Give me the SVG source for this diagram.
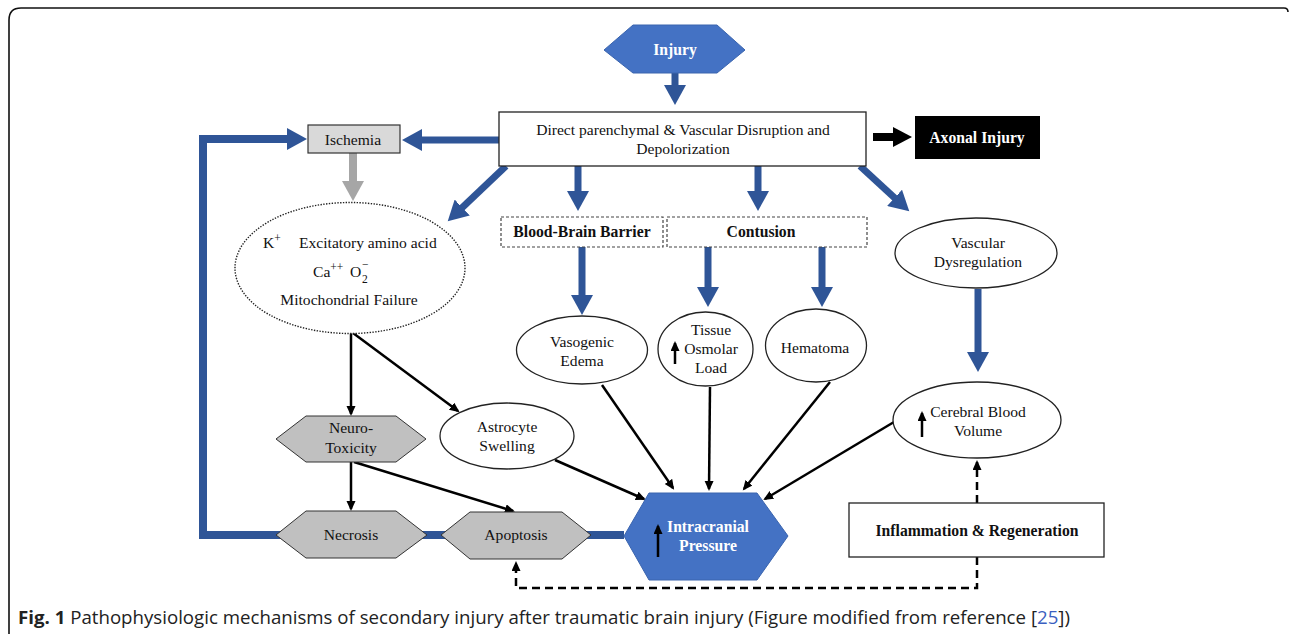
<svg xmlns="http://www.w3.org/2000/svg" width="1290" height="634" viewBox="0 0 1290 634">
<style>
.t{font-family:"Liberation Serif","Times New Roman",serif;font-size:15.6px;fill:#111;text-anchor:middle}
.s{text-anchor:start}
.sm{font-size:11.5px}
.b{font-weight:bold;font-size:15.7px}
.w{fill:#fff}
.bl{stroke:#2F5597;stroke-width:7;fill:none}
.gr{stroke:#A6A6A6;stroke-width:8;fill:none}
.k{stroke:#000;stroke-width:2.5;fill:none}
.kd{stroke:#000;stroke-width:2.5;fill:none;stroke-dasharray:8 5}
.node{fill:#fff;stroke:#222;stroke-width:1.3}
.hexg{fill:#C0C0C0;stroke:#333;stroke-width:1}
.hexb{fill:#4472C4;stroke:#3A64AE;stroke-width:1}
.dash{fill:#fff;stroke:#444;stroke-width:1.2;stroke-dasharray:3 2}
.cap{font-family:"Open Sans","Noto Sans",sans-serif;font-size:18px;fill:#222}
</style>
<defs>
<marker id="hb" markerUnits="userSpaceOnUse" markerWidth="22" markerHeight="22" refX="1" refY="11" orient="auto"><path d="M0,0 L20,11 L0,22 z" fill="#2F5597"/></marker>
<marker id="hg" markerUnits="userSpaceOnUse" markerWidth="22" markerHeight="22" refX="1" refY="11" orient="auto"><path d="M0,0 L20,11 L0,22 z" fill="#A6A6A6"/></marker>
<marker id="hk" markerUnits="userSpaceOnUse" markerWidth="20" markerHeight="20" refX="1" refY="10" orient="auto"><path d="M0,0 L19,10 L0,20 z" fill="#000"/></marker>
<marker id="ha" markerUnits="userSpaceOnUse" markerWidth="12" markerHeight="10" refX="8" refY="4.5" orient="auto"><path d="M0,0 L10,4.5 L0,9 z" fill="#000"/></marker>
</defs>

<path d="M9,634 L9,20 Q9,8 21,8 L1284,8 Q1288,8 1288,12" fill="none" stroke="#111" stroke-width="1.6"/>

<g id="connectors">
<line class="bl" x1="675" y1="72" x2="675" y2="86" marker-end="url(#hb)"/>
<line class="bl" x1="499" y1="140" x2="421" y2="140" marker-end="url(#hb)"/>
<polyline class="bl" style="stroke-width:8" points="624,535 203,535 203,139 288,139" marker-end="url(#hb)"/>
<line class="gr" x1="353" y1="153" x2="353" y2="182" marker-end="url(#hg)"/>
<line class="bl" x1="506" y1="166" x2="461.5" y2="208.2" marker-end="url(#hb)"/>
<line class="bl" x1="578" y1="166" x2="578" y2="192" marker-end="url(#hb)"/>
<line class="bl" x1="758" y1="166" x2="758" y2="192" marker-end="url(#hb)"/>
<line class="bl" x1="860" y1="166" x2="895.3" y2="198.5" marker-end="url(#hb)"/>
<line class="bl" x1="582" y1="247" x2="582" y2="296" marker-end="url(#hb)"/>
<line class="bl" x1="708" y1="247" x2="708" y2="288" marker-end="url(#hb)"/>
<line class="bl" x1="822" y1="247" x2="822" y2="288" marker-end="url(#hb)"/>
<line class="bl" x1="978" y1="289" x2="978" y2="353" marker-end="url(#hb)"/>
<line x1="873" y1="137" x2="894" y2="137" stroke="#000" stroke-width="8" marker-end="url(#hk)"/>
<line class="k" x1="351" y1="333" x2="351" y2="414" marker-end="url(#ha)"/>
<line class="k" x1="353" y1="333" x2="458" y2="411" marker-end="url(#ha)"/>
<line class="k" x1="351" y1="462" x2="351" y2="509" marker-end="url(#ha)"/>
<line class="k" x1="354" y1="462" x2="513" y2="511" marker-end="url(#ha)"/>
<line class="k" x1="555" y1="460" x2="644" y2="499" marker-end="url(#ha)"/>
<line class="k" x1="602" y1="385" x2="673" y2="488" marker-end="url(#ha)"/>
<line class="k" x1="710" y1="387" x2="709" y2="489" marker-end="url(#ha)"/>
<line class="k" x1="830" y1="382" x2="744" y2="489" marker-end="url(#ha)"/>
<line class="k" x1="894" y1="422" x2="765" y2="499" marker-end="url(#ha)"/>
<line class="kd" x1="977" y1="503" x2="977" y2="462" marker-end="url(#ha)"/>
<polyline class="kd" points="977,557 977,588 516,588 516,563" marker-end="url(#ha)"/>
</g>

<g id="injury">
<polygon class="hexb" points="604,50 633,25 717,25 745,50 717,73 633,73"/>
<text class="t b w" x="675" y="55">Injury</text>
</g>

<g id="direct">
<rect class="node" x="499" y="112" width="367" height="54"/>
<text class="t" x="683" y="135">Direct parenchymal &amp; Vascular Disruption and</text>
<text class="t" x="683" y="154">Depolorization</text>
</g>

<g id="axonal">
<rect x="915" y="116" width="125" height="43" fill="#000"/>
<text class="t b w" x="977" y="143">Axonal Injury</text>
</g>

<g id="ischemia">
<rect x="308" y="125" width="92" height="28" fill="#D9D9D9" stroke="#333" stroke-width="1.2"/>
<text class="t" x="353" y="145">Ischemia</text>
</g>

<g id="excitatory">
<ellipse cx="350" cy="268" rx="115" ry="65.5" fill="#fff" stroke="#222" stroke-width="1.4" stroke-dasharray="1.4 1.4"/>
<text class="t s" x="263" y="248">K<tspan class="sm" dy="-6">+</tspan></text>
<text class="t s" x="299" y="248">Excitatory amino acid</text>
<text class="t s" x="313" y="277">Ca<tspan class="sm" dy="-6">++</tspan></text>
<text class="t s" x="350" y="277">O</text>
<text class="t s sm" x="362" y="268">−</text>
<text class="t s sm" x="362" y="283">2</text>
<text class="t" x="349" y="305">Mitochondrial Failure</text>
</g>

<g id="bbb">
<rect class="dash" x="501" y="217" width="162" height="30"/>
<text class="t b" x="582" y="237">Blood-Brain Barrier</text>
</g>

<g id="contusion">
<rect class="dash" x="667" y="217" width="200" height="30"/>
<text class="t b" x="761" y="237">Contusion</text>
</g>

<g id="vascular">
<ellipse class="node" cx="976" cy="253" rx="81" ry="35"/>
<text class="t" x="978" y="248">Vascular</text>
<text class="t" x="978" y="267">Dysregulation</text>
</g>

<g id="vasogenic">
<ellipse class="node" cx="582" cy="350" rx="65.5" ry="34"/>
<text class="t" x="582" y="347">Vasogenic</text>
<text class="t" x="582" y="366">Edema</text>
</g>

<g id="tissue">
<ellipse class="node" cx="705.5" cy="349" rx="47.5" ry="37"/>
<text class="t" x="711" y="335">Tissue</text>
<text class="t" x="711" y="354">Osmolar</text>
<text class="t" x="711" y="373">Load</text>
<line x1="675" y1="364" x2="675" y2="343" stroke="#000" stroke-width="2.5" marker-end="url(#ha)"/>
</g>

<g id="hematoma">
<ellipse class="node" cx="816" cy="345.5" rx="50.5" ry="36.5"/>
<text class="t" x="815" y="353">Hematoma</text>
</g>

<g id="cbv">
<ellipse class="node" cx="977" cy="420" rx="84" ry="38"/>
<text class="t" x="978" y="417">Cerebral Blood</text>
<text class="t" x="978" y="436">Volume</text>
<line x1="922" y1="437" x2="922" y2="413" stroke="#000" stroke-width="2.5" marker-end="url(#ha)"/>
</g>

<g id="astrocyte">
<ellipse class="node" cx="507" cy="436" rx="67" ry="33"/>
<text class="t" x="507" y="432">Astrocyte</text>
<text class="t" x="507" y="451">Swelling</text>
</g>

<g id="neurotoxicity">
<polygon class="hexg" points="276,439 306,416 396,416 426,439 396,462 306,462"/>
<text class="t" x="351" y="433">Neuro-</text>
<text class="t" x="351" y="453">Toxicity</text>
</g>

<g id="necrosis">
<polygon class="hexg" points="276,535 306,511 396,511 427,535 396,558 306,558"/>
<text class="t" x="351" y="540">Necrosis</text>
</g>

<g id="apoptosis">
<polygon class="hexg" points="441,535 470,512 562,512 591,535 562,559 470,559"/>
<text class="t" x="516" y="540">Apoptosis</text>
</g>

<g id="icp">
<polygon class="hexb" points="624,536 649,493 757,493 788,536 757,580 649,580"/>
<text class="t b w" x="708" y="532">Intracranial</text>
<text class="t b w" x="708" y="551">Pressure</text>
<line x1="658" y1="557" x2="658" y2="526" stroke="#000" stroke-width="2.5" marker-end="url(#ha)"/>
</g>

<g id="inflammation">
<rect class="node" x="849" y="503" width="255" height="54"/>
<text class="t b" x="977" y="536">Inflammation &amp; Regeneration</text>
</g>

<text class="cap" x="18" y="624" textLength="1052" lengthAdjust="spacingAndGlyphs"><tspan font-weight="bold">Fig. 1</tspan> Pathophysiologic mechanisms of secondary injury after traumatic brain injury (Figure modified from reference [<tspan fill="#3B5FC0">25</tspan>])</text>
</svg>
